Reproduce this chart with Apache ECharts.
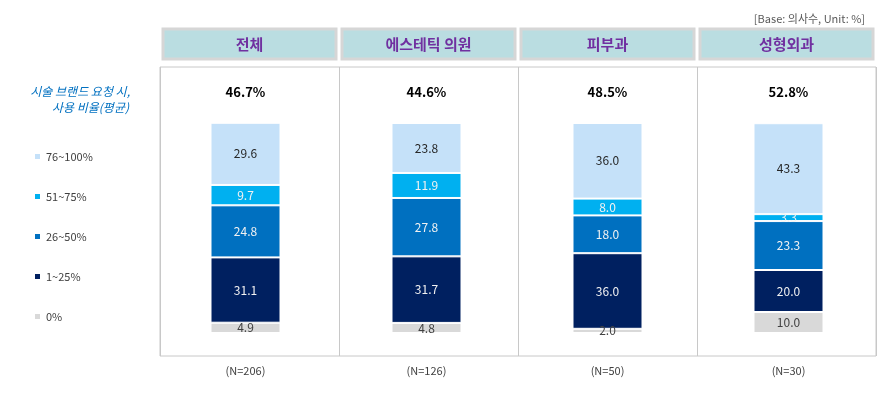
<!DOCTYPE html>
<html><head><meta charset="utf-8">
<script src="https://cdn.jsdelivr.net/npm/echarts@6/dist/echarts.min.js"></script>
<style>html,body{margin:0;padding:0;background:#fff}#c{width:889px;height:393px}</style>
</head><body><div id="c"></div>
<script>
const categories = ['전체', '에스테틱 의원', '피부과', '성형외과'];
const avgLabels = ['46.7%', '44.6%', '48.5%', '52.8%'];
const nLabels = ['(N=206)', '(N=126)', '(N=50)', '(N=30)'];
const seriesNames = ['0%', '1~25%', '26~50%', '51~75%', '76~100%'];
const v0 = [4.9, 4.8, 2.0, 10.0];
const v1 = [31.1, 31.7, 36.0, 20.0];
const v2 = [24.8, 27.8, 18.0, 23.3];
const v3 = [9.7, 11.9, 8.0, 3.3];
const v4 = [29.6, 23.8, 36.0, 43.3];
const seriesValues = [v0, v1, v2, v3, v4];
const colors = ['#D9D9D9', '#002060', '#0070C0', '#00B0F0', '#C5E1F9'];
const labelColors = ['#404040', '#F2F2F2', '#F2F2F2', '#F2F2F2', '#262626'];
const FONT = '"Noto Sans CJK KR", "Noto Sans", sans-serif';

const chart = echarts.init(document.getElementById('c'));
const series = seriesValues.map((vals, i) => ({
  name: seriesNames[i], type: 'bar', stack: 'total', data: vals,
  xAxisIndex: 0, yAxisIndex: 0, barWidth: 70, clip: false,
  itemStyle: { color: colors[i], borderColor: '#fff', borderWidth: 1 },
  label: { show: true, position: 'inside', color: labelColors[i], fontSize: 12, fontFamily: FONT,
           formatter: p => p.value.toFixed(1) }
}));

chart.setOption({
  animation: false,
  textStyle: { fontFamily: FONT },
  title: [
    { text: '[Base: 의사수, Unit: %]', right: 19, top: 8,
      textStyle: { fontSize: 11, color: '#595959', fontWeight: 'normal', fontFamily: FONT } }
  ],
  graphic: [
    { type: 'text', x: 130, y: 85,
      style: { text: '시술 브랜드 요청 시,', fill: '#0070C0', align: 'right',
               font: 'italic 12px ' + FONT } },
    { type: 'text', x: 129, y: 101,
      style: { text: '사용 비율(평균)', fill: '#0070C0', align: 'right',
               font: 'italic 12px ' + FONT } }
  ],
  legend: {
    orient: 'vertical', left: 28, top: 146, itemWidth: 7, itemHeight: 7, itemGap: 29, icon: 'rect',
    data: seriesNames.slice().reverse(),
    textStyle: { fontSize: 11, color: '#404040', fontFamily: FONT }
  },
  grid: [
    { left: 155, right: 10, top: 123, height: 210 },
    { left: 160, right: 13, top: 67, bottom: 37, show: true, borderColor: '#C8C8C8', borderWidth: 1 }
  ],
  xAxis: [
    { type: 'category', gridIndex: 0, data: nLabels, position: 'bottom',
      axisLine: { show: false }, axisTick: { show: false },
      axisLabel: { interval: 0, margin: 32, fontSize: 11, color: '#404040' } },
    { type: 'category', gridIndex: 0, data: avgLabels, position: 'top',
      axisLine: { show: false }, axisTick: { show: false },
      axisLabel: { interval: 0, margin: 24, fontSize: 13, fontWeight: 'bold', color: '#000' } },
    { type: 'category', gridIndex: 1, data: categories, position: 'top',
      axisLine: { show: false }, axisTick: { show: false },
      splitLine: { show: true, interval: 0, lineStyle: { color: '#C8C8C8', width: 1 } },
      axisLabel: { interval: 0, margin: 23, fontSize: 15, fontWeight: 'bold', color: '#7030A0',
        backgroundColor: '#BADDE1', borderColor: '#D6D6D6', borderWidth: 3,
        width: 170, height: 27, lineHeight: 27, align: 'center', verticalAlign: 'middle' } }
  ],
  yAxis: [
    { type: 'value', gridIndex: 0, min: 0, max: 100, show: false },
    { type: 'value', gridIndex: 1, show: false, splitLine: { show: false } }
  ],
  series: series
});
</script></body></html>
